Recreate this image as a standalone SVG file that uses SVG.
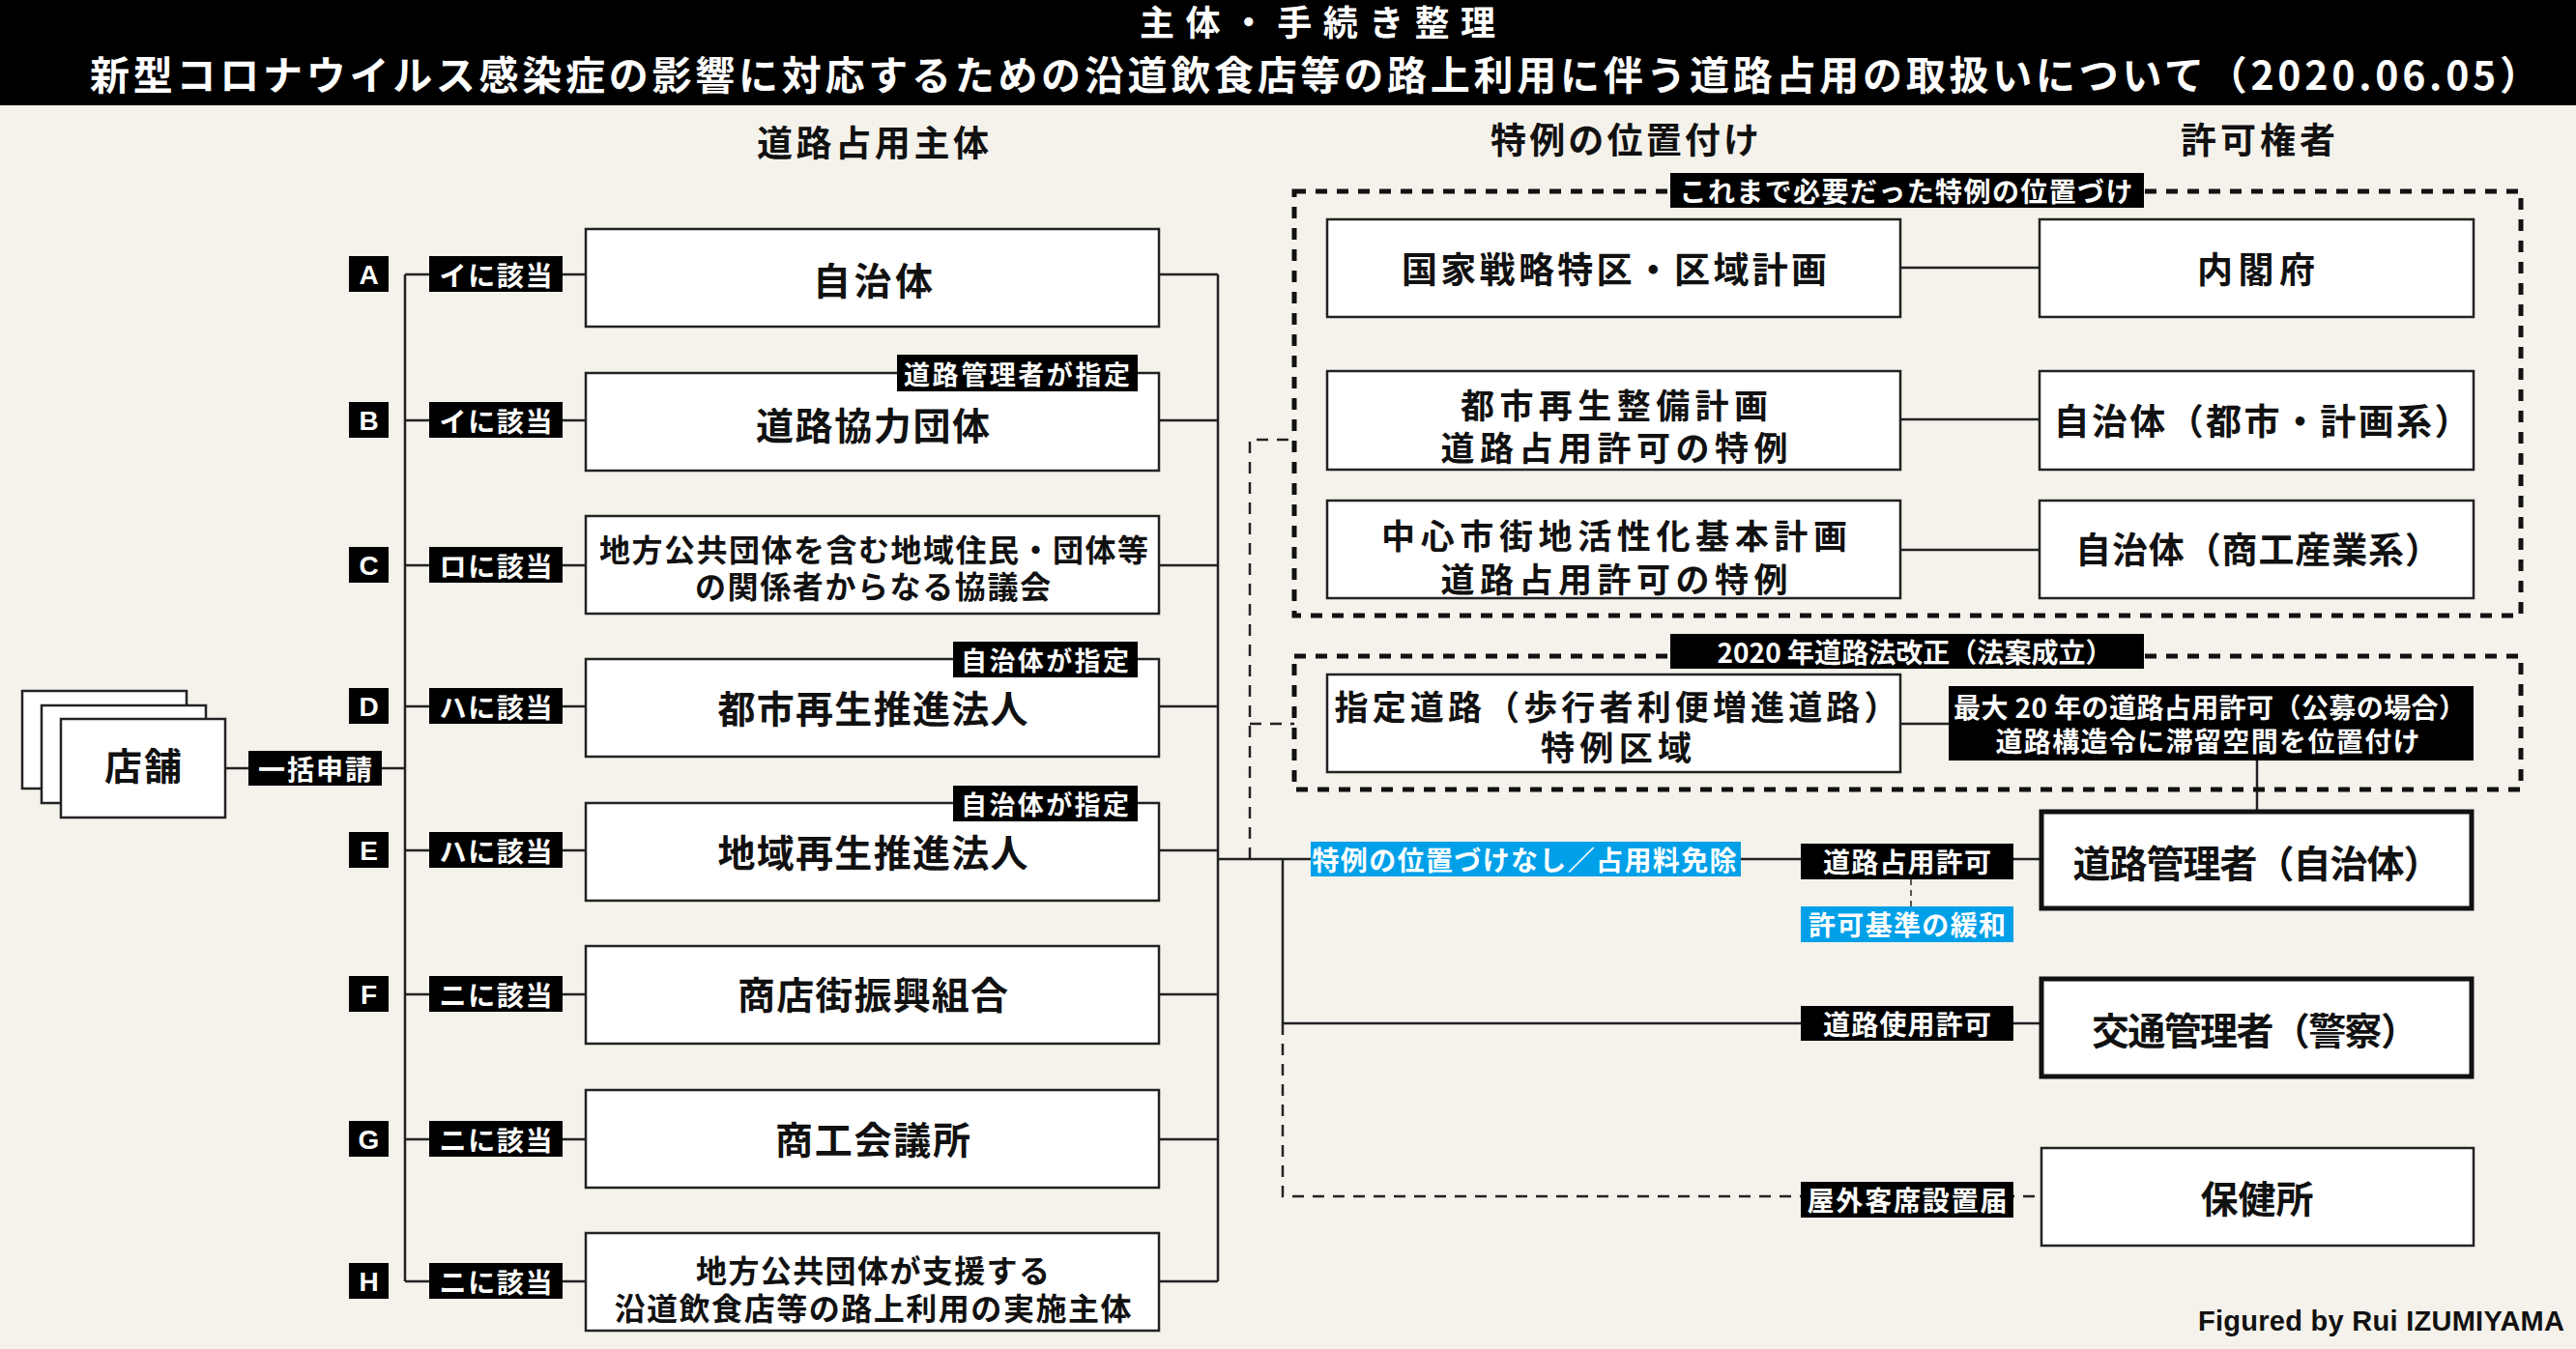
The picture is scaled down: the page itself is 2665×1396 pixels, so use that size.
<svg xmlns="http://www.w3.org/2000/svg" width="2665" height="1396" viewBox="0 0 2665 1396">
<style>
.t{font-family:"Noto Sans CJK JP","Noto Sans",sans-serif;font-weight:700;fill:#111;text-anchor:middle;dominant-baseline:central}
.w{fill:#fff}
.lat{font-family:"Liberation Sans",Arial,sans-serif;font-weight:700}
.box{fill:#fff;stroke:#222;stroke-width:2.5}
.tbox{fill:#fff;stroke:#111;stroke-width:5}
.blk{fill:#000}
.blue{fill:#00a0e9}
.ln{stroke:#222;stroke-width:2.5;fill:none}
.dl{stroke:#222;stroke-width:2.5;fill:none;stroke-dasharray:12 9}
.db{stroke:#111;stroke-width:5;fill:none;stroke-dasharray:12 10}
</style>
<rect x="0" y="0" width="2665" height="1396" fill="#f5f2eb"/>
<g id="title">
<rect x="0" y="0" width="2665" height="109" fill="#000"/>
<text class="t w" x="1363" y="21" font-size="36" textLength="368" lengthAdjust="spacing">主体・手続き整理</text>
<text class="t w" x="1360" y="75" font-size="41" textLength="2534" lengthAdjust="spacing">新型コロナウイルス感染症の影響に対応するための沿道飲食店等の路上利用に伴う道路占用の取扱いについて（2020.06.05）</text>
</g>
<g id="headers">
<text class="t" x="903" y="146" font-size="37" textLength="240">道路占用主体</text>
<text class="t" x="1681" y="143" font-size="37" textLength="278">特例の位置付け</text>
<text class="t" x="2336" y="143" font-size="37" textLength="160">許可権者</text>
</g>
<g id="connectors">
<line class="ln" x1="233" y1="795" x2="419" y2="795"/>
<line class="ln" x1="419" y1="284" x2="419" y2="1326"/>
<line class="ln" x1="419" y1="284" x2="606" y2="284"/>
<line class="ln" x1="419" y1="435" x2="606" y2="435"/>
<line class="ln" x1="419" y1="585" x2="606" y2="585"/>
<line class="ln" x1="419" y1="731" x2="606" y2="731"/>
<line class="ln" x1="419" y1="880" x2="606" y2="880"/>
<line class="ln" x1="419" y1="1029" x2="606" y2="1029"/>
<line class="ln" x1="419" y1="1179" x2="606" y2="1179"/>
<line class="ln" x1="419" y1="1326" x2="606" y2="1326"/>
<line class="ln" x1="1199" y1="284" x2="1260" y2="284"/>
<line class="ln" x1="1199" y1="435" x2="1260" y2="435"/>
<line class="ln" x1="1199" y1="585" x2="1260" y2="585"/>
<line class="ln" x1="1199" y1="731" x2="1260" y2="731"/>
<line class="ln" x1="1199" y1="880" x2="1260" y2="880"/>
<line class="ln" x1="1199" y1="1029" x2="1260" y2="1029"/>
<line class="ln" x1="1199" y1="1179" x2="1260" y2="1179"/>
<line class="ln" x1="1199" y1="1326" x2="1260" y2="1326"/>
<line class="ln" x1="1260" y1="284" x2="1260" y2="1326"/>
<line class="ln" x1="1260" y1="889" x2="2110" y2="889"/>
<line class="ln" x1="1327" y1="889" x2="1327" y2="1059"/>
<line class="ln" x1="1327" y1="1059" x2="2110" y2="1059"/>
<path class="dl" d="M1327,1059 V1238 H2112"/>
<path class="dl" d="M1293,889 V455 H1339 M1293,749 H1339"/>
<line class="dl" x1="1977" y1="910" x2="1977" y2="938" style="stroke-width:1.5;stroke-dasharray:6 5"/>
<line class="ln" x1="1966" y1="277" x2="2110" y2="277"/>
<line class="ln" x1="1966" y1="434" x2="2110" y2="434"/>
<line class="ln" x1="1966" y1="569" x2="2110" y2="569"/>
<line class="ln" x1="1966" y1="749" x2="2016" y2="749"/>
<line class="ln" x1="2335" y1="787" x2="2335" y2="838"/>
</g>
<g id="groups">
<rect class="db" x="1339" y="198" width="1269" height="439"/>
<rect class="blk" x="1728" y="179" width="490" height="36"/>
<text class="t w" x="1972" y="197" font-size="28" textLength="469">これまで必要だった特例の位置づけ</text>
<rect class="db" x="1339" y="679" width="1269" height="138"/>
<rect class="blk" x="1728" y="656" width="490" height="36"/>
<text class="t w" x="1981" y="674" font-size="28" textLength="409">2020 年道路法改正（法案成立）</text>
</g>
<g id="store">
<rect class="box" x="23" y="715" width="170" height="101"/>
<rect class="box" x="43" y="730" width="170" height="101"/>
<rect class="box" x="63" y="744" width="170" height="102"/>
<text class="t" x="148" y="790" font-size="39" textLength="80">店舗</text>
<rect class="blk" x="257" y="777" width="138" height="36"/>
<text class="t w" x="326" y="795" font-size="28" textLength="118">一括申請</text>
</g>
<g id="row-A">
<rect class="blk" x="361" y="265" width="41" height="37"/><text class="t w lat" x="381.5" y="284" font-size="28">A</text>
<rect class="blk" x="444" y="265" width="138" height="37"/><text class="t w" x="513" y="284" font-size="28" textLength="117">イに該当</text>
<rect class="box" x="606" y="237" width="593" height="101"/>
<text class="t" x="903" y="288" font-size="39" textLength="124">自治体</text>
</g>
<g id="row-B">
<rect class="blk" x="361" y="416" width="41" height="37"/><text class="t w lat" x="381.5" y="435" font-size="28">B</text>
<rect class="blk" x="444" y="416" width="138" height="37"/><text class="t w" x="513" y="435" font-size="28" textLength="117">イに該当</text>
<rect class="box" x="606" y="386" width="593" height="101"/>
<text class="t" x="903" y="438" font-size="39" textLength="242">道路協力団体</text>
<rect class="blk" x="928" y="367" width="249" height="38"/>
<text class="t w" x="1052" y="386" font-size="27" textLength="234">道路管理者が指定</text>
</g>
<g id="row-C">
<rect class="blk" x="361" y="566" width="41" height="37"/><text class="t w lat" x="381.5" y="585" font-size="28">C</text>
<rect class="blk" x="444" y="566" width="138" height="37"/><text class="t w" x="513" y="585" font-size="28" textLength="117">ロに該当</text>
<rect class="box" x="606" y="534" width="593" height="101"/>
<text class="t" x="904" y="567" font-size="32" textLength="568">地方公共団体を含む地域住民・団体等</text>
<text class="t" x="903" y="605" font-size="32" textLength="368">の関係者からなる協議会</text>
</g>
<g id="row-D">
<rect class="blk" x="361" y="712" width="41" height="37"/><text class="t w lat" x="381.5" y="731" font-size="28">D</text>
<rect class="blk" x="444" y="712" width="138" height="37"/><text class="t w" x="513" y="731" font-size="28" textLength="117">ハに該当</text>
<rect class="box" x="606" y="682" width="593" height="101"/>
<text class="t" x="903" y="731" font-size="39" textLength="321">都市再生推進法人</text>
<rect class="blk" x="986" y="664" width="191" height="37"/>
<text class="t w" x="1081" y="682" font-size="27" textLength="174">自治体が指定</text>
</g>
<g id="row-E">
<rect class="blk" x="361" y="861" width="41" height="37"/><text class="t w lat" x="381.5" y="880" font-size="28">E</text>
<rect class="blk" x="444" y="861" width="138" height="37"/><text class="t w" x="513" y="880" font-size="28" textLength="117">ハに該当</text>
<rect class="box" x="606" y="831" width="593" height="101"/>
<text class="t" x="903" y="880" font-size="39" textLength="321">地域再生推進法人</text>
<rect class="blk" x="986" y="813" width="191" height="37"/>
<text class="t w" x="1081" y="831" font-size="27" textLength="174">自治体が指定</text>
</g>
<g id="row-F">
<rect class="blk" x="361" y="1010" width="41" height="37"/><text class="t w lat" x="381.5" y="1029" font-size="28">F</text>
<rect class="blk" x="444" y="1010" width="138" height="37"/><text class="t w" x="513" y="1029" font-size="28" textLength="117">ニに該当</text>
<rect class="box" x="606" y="979" width="593" height="101"/>
<text class="t" x="903" y="1027" font-size="39" textLength="280">商店街振興組合</text>
</g>
<g id="row-G">
<rect class="blk" x="361" y="1160" width="41" height="37"/><text class="t w lat" x="381.5" y="1179" font-size="28">G</text>
<rect class="blk" x="444" y="1160" width="138" height="37"/><text class="t w" x="513" y="1179" font-size="28" textLength="117">ニに該当</text>
<rect class="box" x="606" y="1128" width="593" height="101"/>
<text class="t" x="903" y="1177" font-size="39" textLength="202">商工会議所</text>
</g>
<g id="row-H">
<rect class="blk" x="361" y="1307" width="41" height="37"/><text class="t w lat" x="381.5" y="1326" font-size="28">H</text>
<rect class="blk" x="444" y="1307" width="138" height="37"/><text class="t w" x="513" y="1326" font-size="28" textLength="117">ニに該当</text>
<rect class="box" x="606" y="1276" width="593" height="101"/>
<text class="t" x="903" y="1313" font-size="32" textLength="366">地方公共団体が支援する</text>
<text class="t" x="903" y="1352" font-size="32" textLength="535">沿道飲食店等の路上利用の実施主体</text>
</g>
<g id="tokku">
<rect class="box" x="1373" y="227" width="593" height="101"/>
<text class="t" x="1670" y="277" font-size="37" textLength="440">国家戦略特区・区域計画</text>
</g>
<g id="naikakufu">
<rect class="box" x="2110" y="227" width="449" height="101"/>
<text class="t" x="2334" y="277" font-size="37" textLength="122">内閣府</text>
</g>
<g id="toshi-saisei">
<rect class="box" x="1373" y="384" width="593" height="102"/>
<text class="t" x="1670" y="417" font-size="35" textLength="318">都市再生整備計画</text>
<text class="t" x="1670" y="461" font-size="35" textLength="359">道路占用許可の特例</text>
</g>
<g id="jichitai-toshi">
<rect class="box" x="2110" y="384" width="449" height="102"/>
<text class="t" x="2340" y="434" font-size="37" textLength="431">自治体（都市・計画系）</text>
</g>
<g id="chushin">
<rect class="box" x="1373" y="518" width="593" height="101"/>
<text class="t" x="1670" y="552" font-size="35" textLength="482">中心市街地活性化基本計画</text>
<text class="t" x="1670" y="597" font-size="35" textLength="359">道路占用許可の特例</text>
</g>
<g id="jichitai-shoko">
<rect class="box" x="2110" y="518" width="449" height="101"/>
<text class="t" x="2336" y="567" font-size="37" textLength="378">自治体（商工産業系）</text>
</g>
<g id="shitei-doro">
<rect class="box" x="1373" y="698" width="593" height="101"/>
<text class="t" x="1672" y="729" font-size="35" textLength="583">指定道路（歩行者利便増進道路）</text>
<text class="t" x="1672" y="771" font-size="35" textLength="156">特例区域</text>
</g>
<g id="saidai20">
<rect class="blk" x="2016" y="710" width="543" height="77"/>
<text class="t w" x="2286" y="731" font-size="28" textLength="530">最大 20 年の道路占用許可（公募の場合）</text>
<text class="t w" x="2284" y="766" font-size="28" textLength="439">道路構造令に滞留空間を位置付け</text>
</g>
<g id="labels">
<rect class="blue" x="1356" y="871" width="445" height="36"/>
<text class="t w" x="1577" y="889" font-size="28" textLength="439">特例の位置づけなし／占用料免除</text>
<rect class="blk" x="1863" y="873" width="220" height="37"/>
<text class="t w" x="1973" y="891" font-size="28" textLength="174">道路占用許可</text>
<rect class="blue" x="1863" y="938" width="220" height="37"/>
<text class="t w" x="1973" y="956" font-size="28" textLength="204">許可基準の緩和</text>
<rect class="blk" x="1863" y="1041" width="220" height="36"/>
<text class="t w" x="1973" y="1059" font-size="28" textLength="174">道路使用許可</text>
<rect class="blk" x="1863" y="1223" width="220" height="37"/>
<text class="t w" x="1973" y="1241" font-size="28" textLength="207">屋外客席設置届</text>
</g>
<g id="doro-kanrisha">
<rect class="tbox" x="2112" y="840" width="445" height="100"/>
<text class="t" x="2335" y="891" font-size="39" textLength="381">道路管理者（自治体）</text>
</g>
<g id="kotsu-kanrisha">
<rect class="tbox" x="2112" y="1013" width="445" height="101"/>
<text class="t" x="2333" y="1064" font-size="39" textLength="338">交通管理者（警察）</text>
</g>
<g id="hokenjo">
<rect class="box" x="2112" y="1188" width="447" height="101"/>
<text class="t" x="2335" y="1238" font-size="39" textLength="117">保健所</text>
</g>
<text class="lat" x="2653" y="1377" font-size="29" text-anchor="end" fill="#111" textLength="379">Figured by Rui IZUMIYAMA</text>
</svg>
